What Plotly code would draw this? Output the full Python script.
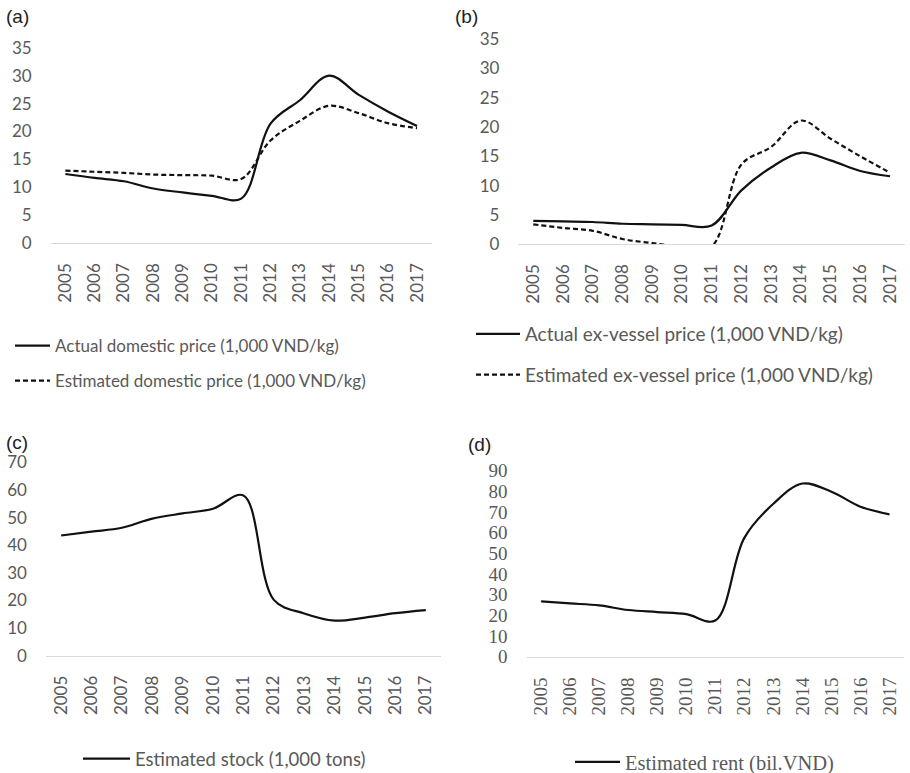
import plotly.graph_objects as go

years = [str(y) for y in range(2005, 2018)]

actual_domestic = [12.4, 11.7, 11.1, 9.8, 9.1, 8.5, 8.0, 21.4, 25.6, 30.0, 26.6, 23.6, 21.0]
estimated_domestic = [13.0, 12.8, 12.6, 12.3, 12.2, 12.1, 11.5, 18.4, 21.9, 24.6, 23.3, 21.5, 20.6]
actual_exvessel = [4.0, 3.9, 3.8, 3.5, 3.4, 3.3, 3.2, 9.2, 13.1, 15.6, 14.3, 12.5, 11.6]
estimated_exvessel = [3.4, 2.8, 2.3, 0.9, 0.2, -0.4, -0.3, 13.6, 16.6, 21.1, 18.0, 15.0, 12.2]
estimated_stock = [43.5, 44.9, 46.3, 49.6, 51.5, 53.2, 58.0, 20.2, 15.3, 12.7, 13.8, 15.4, 16.5]
estimated_rent = [26.8, 25.8, 24.8, 22.6, 21.6, 20.6, 17.5, 57.5, 74.0, 83.8, 79.8, 72.6, 68.9]

SANS = "Lato, 'Open Sans', sans-serif"
SERIF = "'Liberation Serif', 'DejaVu Serif', serif"
GREY = "#595959"
W, H = 910, 773

def px_x(a, b):
    return [a / W, b / W]

def px_y(bottom, top):
    return [1 - bottom / H, 1 - top / H]

fig = go.Figure()

def line(x, y, name, xa, ya, legend, dash="solid", group=None):
    fig.add_trace(go.Scatter(
        x=x, y=y, name=name, mode="lines",
        line=dict(color="#111111", width=2.2, dash=dash, shape="spline", smoothing=1.0),
        xaxis=xa, yaxis=ya, legend=legend, legendgroup=group or name,
        hoverinfo="skip",
    ))

DASH = "5px,3px"
line(years, actual_domestic, "Actual domestic price (1,000 VND/kg)", "x", "y", "legend")
line(years, estimated_domestic, "Estimated domestic price (1,000 VND/kg)", "x", "y", "legend", DASH)
line(years, actual_exvessel, "Actual ex-vessel price (1,000 VND/kg)", "x2", "y2", "legend2")
line(years, estimated_exvessel, "Estimated ex-vessel price (1,000 VND/kg)", "x2", "y2", "legend2", DASH)
line(years, estimated_stock, "Estimated stock (1,000 tons)", "x3", "y3", "legend3")
line(years, estimated_rent, "Estimated rent (bil.VND)", "x4", "y4", "legend4")

def xaxis(domain, anchor, font, size=17):
    return dict(domain=domain, anchor=anchor, type="category", range=[-0.5, 12.5],
                showline=True, linecolor="#d9d9d9", linewidth=1.3, showgrid=False,
                zeroline=False, ticks="", tickangle=-90, ticklabelstandoff=12,
                automargin=False,
                tickfont=dict(family=font, size=size, color=GREY))

def yaxis(domain, anchor, rng, dtick, font, size=17):
    return dict(domain=domain, anchor=anchor, range=rng, dtick=dtick, tick0=0,
                showline=False, showgrid=False, zeroline=False, ticks="",
                ticklabelstandoff=18, automargin=False,
                tickfont=dict(family=font, size=size, color=GREY))

def legend(x, y, font, size, itemwidth, gap=10):
    return dict(x=x / W, y=1 - y / H, xanchor="left", yanchor="top", orientation="v",
                font=dict(family=font, size=size, color=GREY),
                bgcolor="rgba(0,0,0,0)", tracegroupgap=gap, itemwidth=itemwidth)

fig.update_layout(
    width=W, height=H, margin=dict(l=0, r=0, t=0, b=0, autoexpand=False),
    paper_bgcolor="white", plot_bgcolor="white", showlegend=True,
    xaxis=xaxis(px_x(50.7, 431.7), "y", SANS),
    yaxis=yaxis(px_y(243.3, 47.7), "x", [0, 35], 5, SANS),
    xaxis2=xaxis(px_x(518.4, 904.9), "y2", SANS),
    yaxis2=yaxis(px_y(244.3, 39), "x2", [0, 35], 5, SANS),
    xaxis3=xaxis(px_x(45.9, 441), "y3", SANS),
    yaxis3=yaxis(px_y(655.7, 462.3), "x3", [0, 70], 10, SANS),
    xaxis4=xaxis(px_x(526.6, 904), "y4", SERIF, 19),
    yaxis4=yaxis(px_y(656.7, 470.7), "x4", [0, 90], 10, SERIF, 19),
    legend=legend(10, 328, SANS, 17, 35, 10),
    legend2=legend(471, 315, SANS, 19, 44, 13),
    legend3=legend(78, 740, SANS, 18.5, 47),
    legend4=legend(570, 742, SERIF, 20.5, 45),
)

for txt, x, y in [("(a)", 4, 4), ("(b)", 453, 4), ("(c)", 4, 430), ("(d)", 466, 432)]:
    fig.add_annotation(text=txt, x=x / W, y=1 - y / H, xref="paper", yref="paper",
                       xanchor="left", yanchor="top", showarrow=False,
                       font=dict(family="'Liberation Sans', Arial, sans-serif", size=19, color="#222222"))

fig.write_html(
    "out.html",
    config={"displayModeBar": False},
    post_script="document.body.style.margin='0';document.body.style.overflow='hidden';",
)
